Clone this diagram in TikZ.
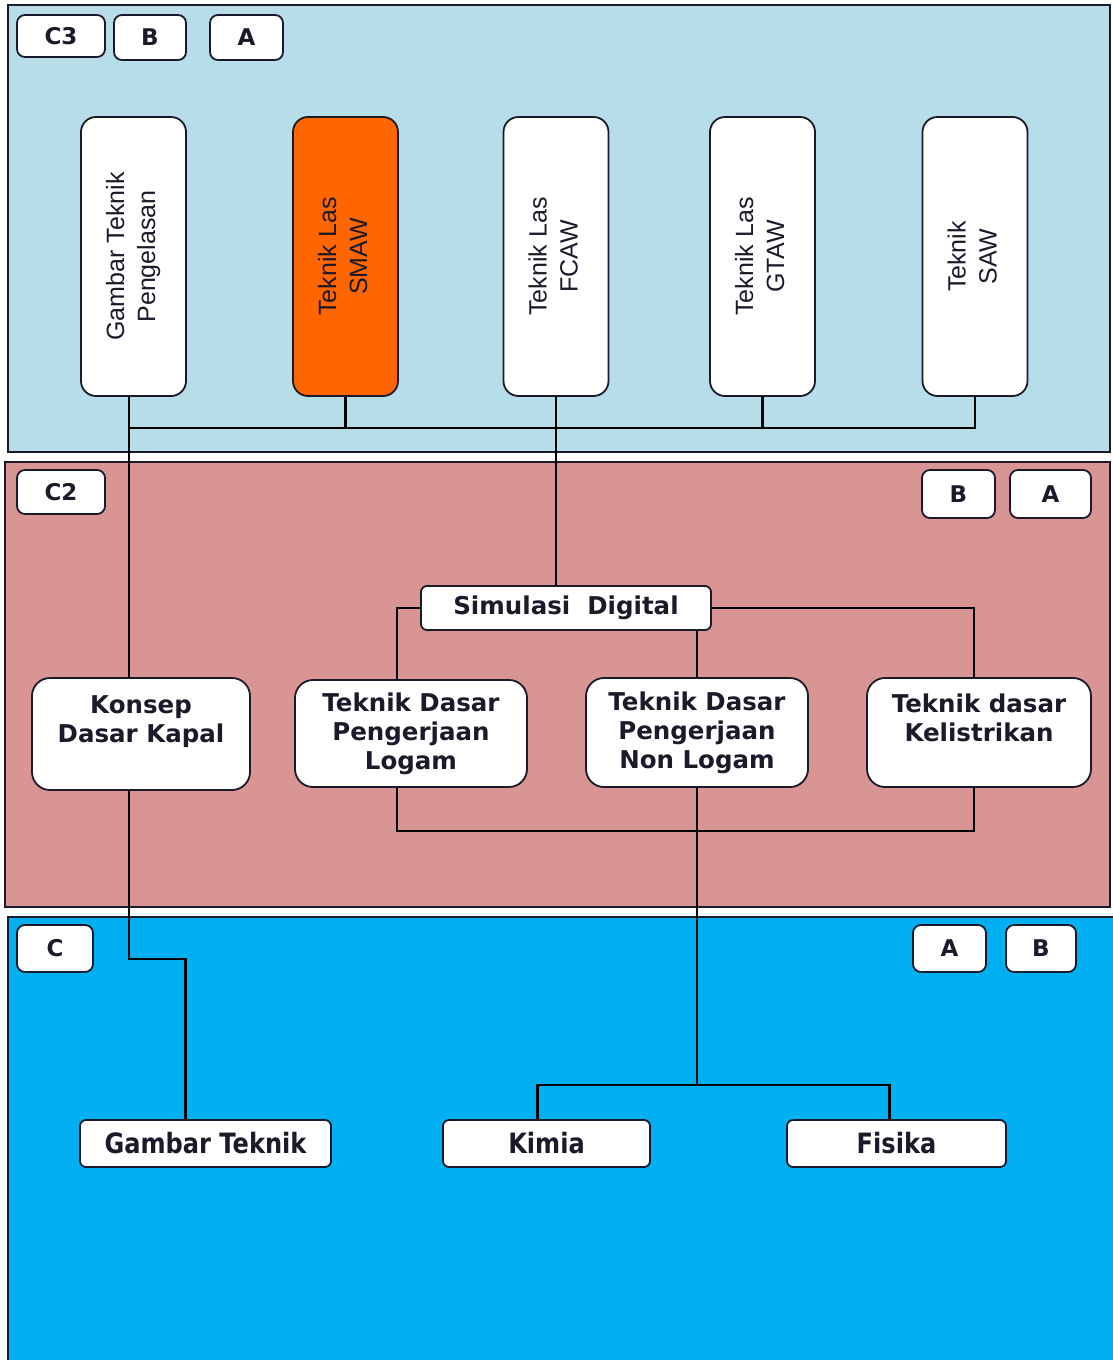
\documentclass[tikz,border=0pt]{standalone}
\usepackage{fontspec}
\setmainfont{DejaVu Sans}
\newfontfamily\arialfont{Liberation Sans}
\newfontfamily\narrowfont[FakeStretch=0.86]{DejaVu Sans}
\usetikzlibrary{positioning, calc}
\definecolor{panelthree}{HTML}{B7DDE8}
\definecolor{paneltwo}{HTML}{D99594}
\definecolor{panelone}{HTML}{00B0F0}
\definecolor{weldorange}{HTML}{FF6600}
\definecolor{inkdark}{HTML}{1A1A2A}
\newcommand{\sidetext}[1]{\rotatebox{90}{\begin{tabular}{@{}c@{}}#1\end{tabular}}}

\begin{document}
\begin{tikzpicture}[x=1pt, y=-1pt,
    panel/.style={draw=inkdark, line width=2pt},
    tag/.style={draw=inkdark, fill=white, line width=1.8pt, rounded corners=8pt, inner sep=0pt, font=\fontsize{23}{26}\selectfont\bfseries, text=inkdark},
    vbox/.style={draw=inkdark, fill=white, line width=1.8pt, rounded corners=15pt, minimum width=105pt, minimum height=279pt, inner sep=0pt, font=\arialfont\fontsize{25}{31}\selectfont, text=inkdark},
    mbox/.style={draw=inkdark, fill=white, line width=1.8pt, rounded corners=18pt, minimum height=109pt, inner sep=0pt, align=center, font=\fontsize{24.5}{29}\selectfont\bfseries, text=inkdark},
    lbox/.style={draw=inkdark, fill=white, line width=1.8pt, rounded corners=6pt, minimum height=47pt, inner sep=0pt, font=\narrowfont\fontsize{28}{30}\selectfont\bfseries, text=inkdark},
    link/.style={draw=black, line width=2.2pt}]
    \useasboundingbox (0,0) rectangle (1112,1360);
    \fill[white] (0,0) rectangle (1112,1360);
    % panels
    \draw[panel, fill=panelthree] (8,5) rectangle (1110,452);
    \draw[panel, fill=paneltwo] (5,462) rectangle (1110,907);
    \draw[panel, fill=panelone] (8,917) rectangle (1116,1364);

    % level C3
    \node[tag, minimum width=88pt, minimum height=42pt] (c3) at (61,36) {C3};
    \node[tag, minimum width=72pt, minimum height=45pt] (b3) at (150,37.5) {B};
    \node[tag, minimum width=73pt, minimum height=45pt] (a3) at (246.5,37.5) {A};
    \node[vbox] (gtp) at (133.5,256.5) {\sidetext{Gambar Teknik\\Pengelasan}};
    \node[vbox, fill=weldorange] (smaw) at (345.5,256.5) {\sidetext{Teknik Las\\SMAW}};
    \node[vbox] (fcaw) at (556,256.5) {\sidetext{Teknik Las\\FCAW}};
    \node[vbox] (gtaw) at (762.5,256.5) {\sidetext{Teknik Las\\GTAW}};
    \node[vbox] (saw) at (975,256.5) {\sidetext{Teknik\\SAW}};

    % level C2
    \node[tag, minimum width=88pt, minimum height=44pt] (c2) at (61,492) {C2};
    \node[tag, minimum width=73pt, minimum height=48pt] (b2) at (958.5,494) {B};
    \node[tag, minimum width=81pt, minimum height=48pt] (a2) at (1050.5,494) {A};
    \node[mbox, minimum width=290pt, minimum height=44pt, rounded corners=6pt] (sim) at (566,608) {Simulasi\ \ Digital};
    \node[mbox, minimum width=218pt, minimum height=112pt] (konsep) at (141,734) {Konsep\\Dasar Kapal\\~};
    \node[mbox, minimum width=232pt, minimum height=107pt] (logam) at (411,733.5) {Teknik Dasar\\Pengerjaan\\Logam};
    \node[mbox, minimum width=222pt] (nonlogam) at (697,732.5) {Teknik Dasar\\Pengerjaan\\Non Logam};
    \node[mbox, minimum width=224pt] (listrik) at (979,732.5) {Teknik dasar\\Kelistrikan\\~};

    % level C
    \node[tag, minimum width=76pt, minimum height=47pt] (c1) at (55,948.5) {C};
    \node[tag, minimum width=73pt, minimum height=47pt] (a1) at (949.5,948.5) {A};
    \node[tag, minimum width=70pt, minimum height=47pt] (b1) at (1041,948.5) {B};
    \node[lbox, minimum width=251pt] (gambar) at (205.5,1143.5) {Gambar Teknik};
    \node[lbox, minimum width=207pt] (kimia) at (546.5,1143.5) {Kimia};
    \node[lbox, minimum width=219pt] (fisika) at (896.5,1143.5) {Fisika};

    % connectors
    \coordinate (bus) at (129,428);
    \coordinate (split) at (696,1085);
    \draw[link] ([xshift=-4.5pt]gtp.south) -- ([xshift=-4.5pt]gtp.south |- konsep.north);
    \draw[link] (bus) -| (saw.south);
    \foreach \n in {smaw, gtaw}
        \draw[link] (\n.south) -- (\n.south |- bus);
    \draw[link] (fcaw.south) -- (fcaw.south |- sim.north);
    \draw[link] (sim.west) -| ([xshift=-14pt]logam.north);
    \draw[link] (sim.east) -| ([xshift=-5pt]listrik.north);
    \draw[link] (nonlogam.north |- sim.south) -- (nonlogam.north);
    \draw[link] ([xshift=-14pt]logam.south) -- ++(0,43) -| ([xshift=-5pt]listrik.south);
    \draw[link] (nonlogam.south) -- (nonlogam.south |- split);
    \draw[link] ([xshift=-9pt]kimia.north) |- (split) -| ([xshift=-7pt]fisika.north);
    \draw[link] ([xshift=-12pt]konsep.south) -- ++(0,168) -| ([xshift=-20pt]gambar.north);
\end{tikzpicture}
\end{document}
